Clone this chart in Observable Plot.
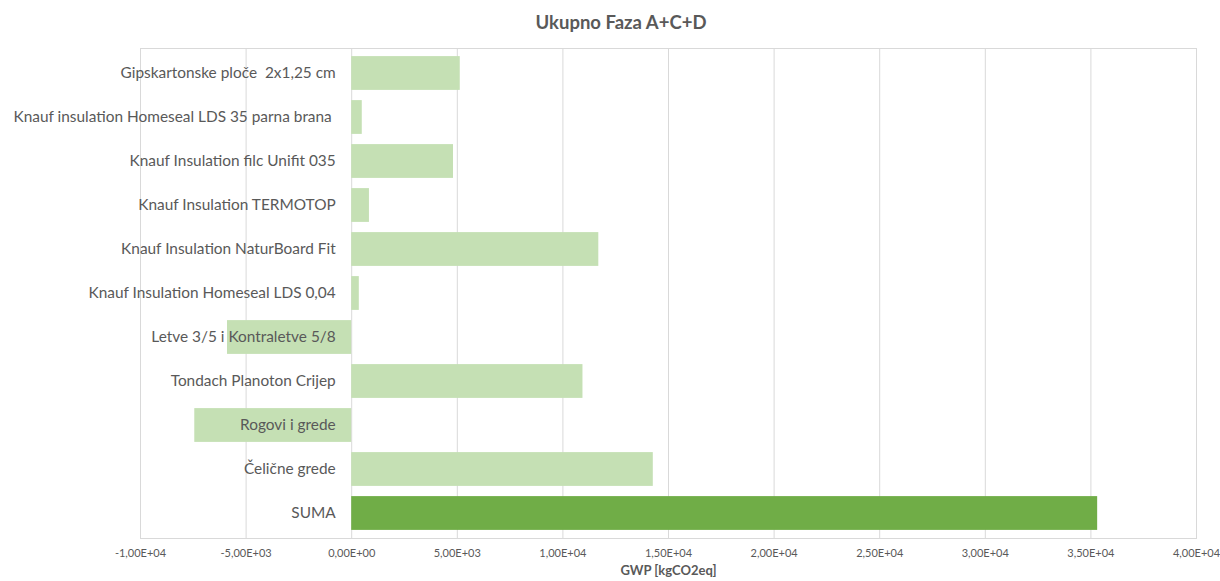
<!DOCTYPE html>
<html>
<head>
<meta charset="utf-8">
<script src="https://cdn.jsdelivr.net/npm/d3@7"></script>
<script src="https://cdn.jsdelivr.net/npm/@observablehq/plot@0.6"></script>
<style>
  html, body { margin: 0; padding: 0; background: #fff; }
  #title { height: 40px; padding-top: 13px; line-height: 1; text-align: center; font-family: Lato, "Open Sans", sans-serif; font-weight: bold; font-size: 18.5px; color: #595959; padding-left: 22px; box-sizing: border-box; }
  #chart svg { display: block; }
</style>
</head>
<body>
<div id="title">Ukupno Faza A+C+D</div>
<div id="chart"></div>
<script>
const categories = [
  "Gipskartonske ploče  2x1,25 cm",
  "Knauf insulation Homeseal LDS 35 parna brana ",
  "Knauf Insulation filc Unifit 035",
  "Knauf Insulation TERMOTOP",
  "Knauf Insulation NaturBoard Fit",
  "Knauf Insulation Homeseal LDS 0,04",
  "Letve 3/5 i Kontraletve 5/8",
  "Tondach Planoton Crijep",
  "Rogovi i grede",
  "Čelične grede",
  "SUMA"
];
const values = [5140, 500, 4820, 840, 11700, 360, -5880, 10950, -7430, 14280, 35320];
const xTicks = [-10000, -5000, 0, 5000, 10000, 15000, 20000, 25000, 30000, 35000, 40000];
const xLabel = "GWP [kgCO2eq]";

const data = categories.map((c, i) => ({category: c, value: values[i], total: c === "SUMA"}));

function fmt(d) {
  const [m, e] = d.toExponential(2).split("e");
  const sign = e[0] === "-" ? "-" : "+";
  const ex = e.replace(/[+-]/, "").padStart(2, "0");
  return m.replace(".", ",") + "E" + sign + ex;
}

const chart = Plot.plot({
  width: 1220,
  height: 541,
  marginLeft: 140,
  marginRight: 24,
  marginTop: 8,
  marginBottom: 43,
  style: {fontFamily: "Lato, 'Open Sans', sans-serif", color: "#595959", background: "#fff", overflow: "visible"},
  x: {domain: [-10000, 40000]},
  y: {domain: categories, padding: 0, axis: null},
  marks: [
    Plot.gridX(xTicks, {stroke: "#d9d9d9", strokeOpacity: 1}),
    Plot.frame({stroke: "#d9d9d9"}),
    Plot.barX(data, {
      x: "value", y: "category", insetTop: 5.1, insetBottom: 5.1,
      fill: d => d.total ? "#70ad47" : "#c5e0b4"
    }),
    Plot.text(data, {
      x: () => 0, y: "category", text: "category",
      textAnchor: "end", dx: -16, fontSize: 15.4, fill: "#595959"
    }),
    Plot.axisX(xTicks, {tickFormat: fmt, tickSize: 0, tickPadding: 11, fontSize: 11, fill: "#595959", label: null}),
    Plot.text([xLabel], {frameAnchor: "bottom", dy: 36, fontWeight: "bold", fontSize: 13, fill: "#595959"})
  ]
});
document.getElementById("chart").appendChild(chart);
</script>
</body>
</html>
